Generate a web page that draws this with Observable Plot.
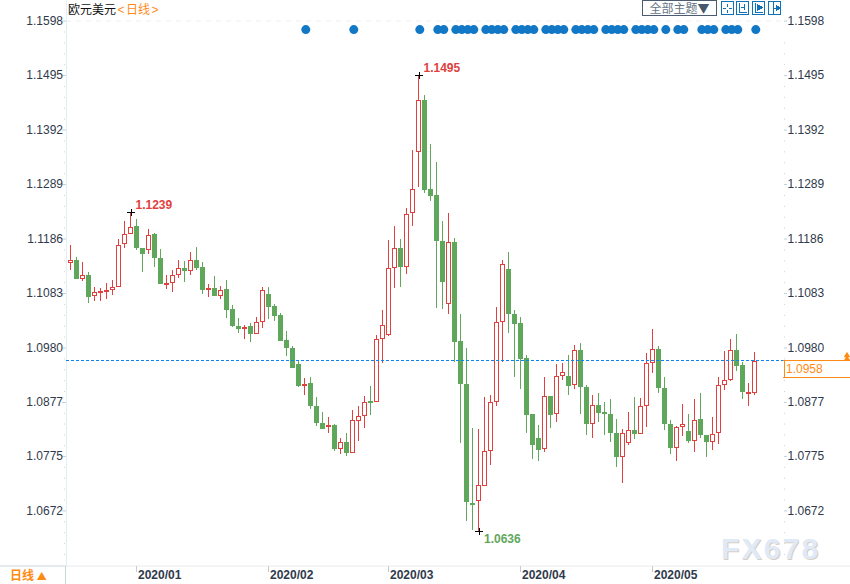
<!DOCTYPE html>
<html>
<head>
<meta charset="utf-8">
<script src="https://cdn.jsdelivr.net/npm/d3@7"></script>
<script src="https://cdn.jsdelivr.net/npm/@observablehq/plot@0.6"></script>
<style>
html,body{margin:0;padding:0;background:#fff;width:850px;height:584px;overflow:hidden;font-family:"Liberation Sans",Arial,sans-serif}
#wrap{position:relative;width:850px;height:584px}
#wrap svg.plot{position:absolute;left:0;top:0}
.ov{position:absolute;white-space:nowrap;line-height:1}
.cjk{font-family:"Noto Sans CJK SC","Noto Sans",sans-serif}
.ic{position:absolute;top:1px;shape-rendering:crispEdges}
</style>
</head>
<body>
<div id="wrap">
  <div class="ov cjk" style="left:68px;top:3px;font-size:12px;color:#111">欧元美元<span style="color:#ff8a14"><span style="font-family:'Liberation Sans';margin:0 1.5px 0 1.5px">&lt;</span>日线<span style="font-family:'Liberation Sans';margin-left:1.5px">&gt;</span></span></div>
  <div class="ov cjk" style="left:642px;top:0;width:73px;height:14px;border:1px solid #4d5b70;font-size:12px;color:#667585;text-align:center;line-height:14px;z-index:2;background:#fff">全部主题<span style="color:#46566b">▼</span></div>
  <svg class="ic" style="left:721px" width="14" height="14" viewBox="0 0 14 14" fill="none" stroke="#1272b8"><rect x=".5" y=".5" width="12" height="13"/><path d="M2 7h3M8 7h3M6.500 2.500v3M6.500 8.500v3"/></svg>
  <svg class="ic" style="left:736px" width="14" height="14" viewBox="0 0 14 14" fill="none" stroke="#1272b8"><rect x=".5" y=".5" width="12" height="13"/><path d="M3.500 2v9h7M8.500 3v6M5 6h3"/></svg>
  <svg class="ic" style="left:752px" width="14" height="14" viewBox="0 0 14 14" fill="none" stroke="#1272b8"><rect x=".5" y=".5" width="12" height="13"/><path d="M3.500 2v9h7"/><path d="M5.500 3.500l5 3-5 3z" fill="#1272b8"/></svg>
  <svg class="ic" style="left:768px" width="14" height="14" viewBox="0 0 14 14" fill="none" stroke="#1272b8"><rect x=".5" y=".5" width="12" height="13"/><path d="M5.500 1v12M5.500 7h3"/><path d="M8 4l3.500 3-3.500 3z" fill="#1272b8"/></svg>
  <div class="ov cjk" style="left:10px;top:569px;font-size:12px;font-weight:700;color:#ff8a14">日线 <span style="font-size:10px">▲</span></div>
  <div class="ov" style="left:786px;top:361px;font-size:12px;color:#ff8a14;line-height:16px">1.0958</div>
  <div class="ov" style="left:721px;top:534px;font-size:30px;font-weight:700;letter-spacing:2.200px;color:#dfeaf6;text-shadow:1px 1px 0 #d8cdc4">FX678</div>
</div>
<script>
const opens = [1.1140,1.1145,1.1110,1.1117,1.1079,1.1084,1.1086,1.1090,1.1095,1.1177,
1.1196,1.1208,1.1168,1.1166,1.1193,1.1149,1.1099,1.1103,1.1118,1.1130,
1.1126,1.1145,1.1132,1.1089,1.1091,1.1078,1.1089,1.1051,1.1019,1.1016,
1.1019,1.1007,1.1030,1.1080,1.1057,1.1040,1.0994,1.0979,1.0947,1.0908,
1.0911,1.0869,1.0837,1.0830,1.0832,1.0789,1.0801,1.0782,1.0842,1.0852,
1.0878,1.0878,1.0997,1.1005,1.1131,1.1167,1.1133,1.1236,1.1351,1.1446,
1.1278,1.1267,1.1181,1.1063,1.1179,1.0992,1.0910,1.0685,1.0690,1.0720,
1.0785,1.0878,1.1029,1.1128,1.1043,1.1026,1.0960,1.0854,1.0808,1.0789,
1.0888,1.0855,1.0927,1.0926,1.0910,1.0975,1.0905,1.0836,1.0871,1.0857,
1.0854,1.0818,1.0774,1.0800,1.0823,1.0817,1.0870,1.0952,1.0976,1.0903,
1.0835,1.0791,1.0831,1.0821,1.0804,1.0843,1.0814,1.0802,1.0819,1.0910,
1.0919,1.0975,1.0945,1.0893,1.0894];
const closes = [1.1145,1.1110,1.1116,1.1076,1.1084,1.1086,1.1088,1.1094,1.1173,1.1194,
1.1207,1.1169,1.1157,1.1192,1.1150,1.1101,1.1101,1.1116,1.1130,1.1125,
1.1145,1.1132,1.1089,1.1092,1.1078,1.1088,1.1052,1.1022,1.1016,1.1018,
1.1006,1.1028,1.1088,1.1058,1.1040,1.0994,1.0980,1.0942,1.0908,1.0910,
1.0870,1.0838,1.0827,1.0832,1.0789,1.0801,1.0781,1.0842,1.0850,1.0876,
1.0876,1.0996,1.1022,1.1130,1.1167,1.1133,1.1232,1.1279,1.1446,1.1279,
1.1267,1.1182,1.1104,1.1179,1.0992,1.0911,1.0688,1.0684,1.0720,1.0783,
1.0876,1.1027,1.1137,1.1044,1.1026,1.0960,1.0854,1.0797,1.0787,1.0887,
1.0854,1.0925,1.0932,1.0909,1.0975,1.0906,1.0836,1.0870,1.0858,1.0855,
1.0819,1.0773,1.0817,1.0823,1.0817,1.0869,1.0950,1.0976,1.0904,1.0836,
1.0790,1.0829,1.0834,1.0804,1.0842,1.0815,1.0802,1.0816,1.0908,1.0918,
1.0975,1.0946,1.0896,1.0894,1.0954];
const highs = [1.1174,1.1151,1.1142,1.1123,1.1094,1.1092,1.1101,1.1108,1.1185,1.1219,
1.1236,1.1223,1.1169,1.1204,1.1197,1.1166,1.1117,1.1127,1.1145,1.1144,
1.1161,1.1170,1.1142,1.1100,1.1115,1.1096,1.1108,1.1061,1.1036,1.1023,
1.1027,1.1038,1.1095,1.1095,1.1063,1.1046,1.1011,1.0983,1.0957,1.0922,
1.0924,1.0886,1.0858,1.0849,1.0835,1.0809,1.0818,1.0862,1.0869,1.0888,
1.0907,1.1004,1.1051,1.1183,1.1210,1.1185,1.1243,1.1354,1.1495,1.1458,
1.1365,1.1331,1.1219,1.1234,1.1187,1.1043,1.0979,1.0827,1.0825,1.0886,
1.0891,1.1056,1.1145,1.1160,1.1050,1.1037,1.0965,1.0854,1.0833,1.0924,
1.0888,1.0948,1.0950,1.0965,1.0985,1.0988,1.0909,1.0890,1.0894,1.0877,
1.0882,1.0845,1.0826,1.0858,1.0886,1.0884,1.0970,1.1015,1.0982,1.0924,
1.0843,1.0831,1.0873,1.0854,1.0882,1.0894,1.0814,1.0848,1.0924,1.0973,
1.0996,1.1005,1.0952,1.0913,1.0971];
const lows = [1.1127,1.1110,1.1106,1.1065,1.1068,1.1067,1.1072,1.1079,1.1095,1.1169,
1.1196,1.1164,1.1123,1.1156,1.1133,1.1101,1.1091,1.1084,1.1112,1.1103,
1.1117,1.1127,1.1082,1.1076,1.1078,1.1071,1.1035,1.1018,1.1008,1.0996,
1.0991,1.1006,1.1016,1.1034,1.1031,1.0993,1.0963,1.0941,1.0906,1.0890,
1.0863,1.0832,1.0825,1.0819,1.0785,1.0779,1.0775,1.0781,1.0804,1.0828,
1.0853,1.0876,1.0950,1.1001,1.1093,1.1094,1.1118,1.1210,1.1284,1.1273,
1.1256,1.1055,1.1053,1.1044,1.0953,1.0799,1.0652,1.0635,1.0633,1.0720,
1.0758,1.0869,1.0953,1.1008,1.0924,1.0902,1.0818,1.0770,1.0766,1.0782,
1.0827,1.0839,1.0919,1.0890,1.0902,1.0854,1.0815,1.0809,1.0840,1.0815,
1.0802,1.0754,1.0724,1.0795,1.0807,1.0817,1.0830,1.0932,1.0894,1.0824,
1.0779,1.0766,1.0813,1.0800,1.0783,1.0809,1.0773,1.0787,1.0798,1.0899,
1.0917,1.0935,1.0882,1.0869,1.0891];
const priceTicks = [1.1598,1.1495,1.1392,1.1289,1.1186,1.1083,1.0980,1.0877,1.0775,1.0672];
const monthIndex = [11,33,53,75,97];
const monthLabels = ["2020/01","2020/02","2020/03","2020/04","2020/05"];
const signalIndex = [39,47,58,61,62,64,65,66,67,69,70,71,72,74,75,76,77,79,80,81,82,84,85,86,87,
89,90,91,92,94,95,96,97,99,101,102,105,106,107,109,110,111,114];
const signalPrice = 1.1582;
const peaks = [{i:10,v:1.1236,t:"1.1239"},{i:58,v:1.1495,t:"1.1495"}];
const trough = [{i:68,v:1.0633,t:"1.0636"}];
const lastLine = 1.0956;

const RED="#e0413e", GREEN="#5fa85b", ORANGE="#ff8a14", INK="#2f3a4c";
const candles = opens.map((o,i)=>({i,o,c:closes[i],h:highs[i],l:lows[i],up:closes[i]>=o}));
const px = v => (v-70)/6;             // page x -> index, for furniture only
const py = v => 1.1598-(v-20.6)*(1.1598-1.0672)/489.8; // page y -> price, for furniture only
const minor = [];
for(let k=0;k<priceTicks.length-1;k++) for(let j=1;j<5;j++) minor.push(priceTicks[k]+(priceTicks[k+1]-priceTicks[k])*j/5);
for(let j=1;j<5;j++) minor.push(1.0672-0.00206*j);

const chart = Plot.plot({
  width:850,height:584,margin:0,
  x:{type:"linear",domain:[0,114],range:[70,754],axis:null},
  y:{type:"linear",domain:[1.1598,1.0672],range:[20.6,510.4],axis:null},
  style:{background:"transparent",fontFamily:'"Liberation Sans",Arial,sans-serif',overflow:"visible"},
  marks:[
    Plot.ruleX([0],{x:()=>px(66),y1:()=>py(0),y2:()=>py(566),stroke:"#e4eff3"}),
    Plot.ruleY([py(565.5)],{x1:()=>px(66),x2:()=>px(850),stroke:"#e6eaee"}),
    Plot.ruleY([py(565.5)],{x1:()=>px(0),x2:()=>px(66),stroke:"#cdd5dc"}),
    Plot.ruleX([0],{x:()=>px(65),y1:()=>py(566),y2:()=>py(584),stroke:"#cdd5dc"}),
    Plot.ruleY([1.1598],{x1:()=>px(66),x2:()=>px(784),stroke:"#eceff1",strokeDasharray:"5,5"}),
    Plot.ruleY(minor,{x1:()=>px(64),x2:()=>px(65),stroke:"#c8d4da"}),
    Plot.ruleY(minor.filter(v=>v<1.157),{x1:()=>px(784),x2:()=>px(785),stroke:"#c8d4da"}),
    Plot.ruleY(priceTicks,{x1:()=>px(62),x2:()=>px(66),stroke:"#b9d3e3"}),
    Plot.ruleY(priceTicks,{x1:()=>px(784),x2:()=>px(787),stroke:"#b9d3e3"}),
    Plot.text(priceTicks,{x:()=>px(62.5),y:d=>d,text:d=>d.toFixed(4),textAnchor:"end",fontSize:12,fill:INK}),
    Plot.text(priceTicks,{x:()=>px(787),y:d=>d,text:d=>d.toFixed(4),textAnchor:"start",fontSize:12,fill:INK}),
    Plot.ruleX(monthIndex,{x:d=>d,y1:()=>py(566),y2:()=>py(572),stroke:"#c3ccd4"}),
    Plot.text(monthLabels,{x:(d,i)=>monthIndex[i],y:()=>py(574.5),text:d=>d,textAnchor:"start",dx:1.5,fontSize:12,fontWeight:"bold",fill:INK}),
    // candles
    Plot.ruleX(candles,{x:"i",y1:"l",y2:"h",stroke:d=>d.up?RED:GREEN,strokeWidth:1,shapeRendering:"crispEdges"}),
    Plot.rect(candles,{x1:d=>d.i-1/3,x2:d=>d.i+1/3,y1:"o",y2:"c",
      fill:d=>d.up?"#fff":GREEN,stroke:d=>d.up?RED:GREEN,strokeWidth:1,dx:0.5,shapeRendering:"crispEdges"}),
    // signal dots
    Plot.dot(signalIndex,{x:d=>d,y:()=>signalPrice,r:4.5,fill:"#1278c6",stroke:"none",dx:1.3}),
    // last price line
    Plot.ruleY([lastLine],{x1:()=>px(66),x2:()=>px(783),stroke:"#0a84f0",strokeDasharray:"3,2",shapeRendering:"crispEdges"}),
    // last price box
    Plot.ruleY([lastLine],{x1:()=>px(783),x2:()=>px(850),stroke:ORANGE,shapeRendering:"crispEdges"}),
    Plot.ruleX([0],{x:()=>px(783.5),y1:()=>lastLine,y2:()=>py(377),stroke:ORANGE,shapeRendering:"crispEdges"}),
    Plot.ruleY([py(377)],{x1:()=>px(783),x2:()=>px(850),stroke:ORANGE,shapeRendering:"crispEdges"}),
    Plot.dot([355,358.3],{x:()=>px(846.5),y:d=>py(d),symbol:"triangle",r:2.4,fill:ORANGE,stroke:"none"}),
    // extremes
    Plot.dot([...peaks,...trough],{x:"i",y:"v",symbol:"plus",r:2.5,stroke:"#000",strokeWidth:1,dx:0.5,shapeRendering:"crispEdges"}),
    Plot.text(peaks,{x:"i",y:"v",text:"t",textAnchor:"start",dx:5,dy:-7.5,fontWeight:"bold",fontSize:12,fill:RED}),
    Plot.text(trough,{x:"i",y:"v",text:"t",textAnchor:"start",dx:5.5,dy:7.5,fontWeight:"bold",fontSize:12,fill:GREEN}),
  ]
});
const wrap=document.getElementById("wrap");
wrap.insertBefore(chart,wrap.firstChild);
</script>
</body>
</html>
